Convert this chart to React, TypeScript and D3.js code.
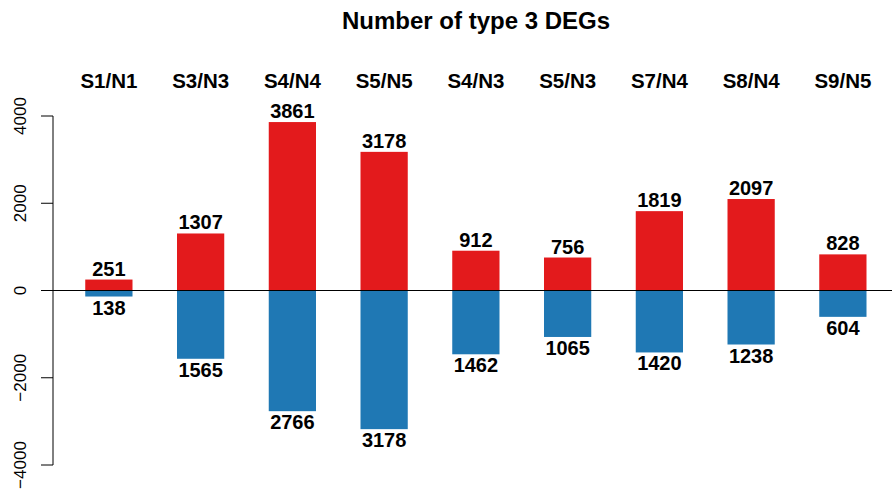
import React from "react";
import * as d3 from "d3";

const categories = ["S1/N1", "S3/N3", "S4/N4", "S5/N5", "S4/N3", "S5/N3", "S7/N4", "S8/N4", "S9/N5"];
const upValues = [251, 1307, 3861, 3178, 912, 756, 1819, 2097, 828];
const downValues = [138, 1565, 2766, 3178, 1462, 1065, 1420, 1238, 604];
const yTicks = [-4000, -2000, 0, 2000, 4000];

const width = 892;
const height = 495;
const font = "'Liberation Sans', Arial, Helvetica, sans-serif";

export default function App() {
  const x = d3
    .scaleBand()
    .domain(categories)
    .range([63, 63 + 91.75 * categories.length])
    .paddingInner(0.485)
    .paddingOuter(0.2425);
  const y = d3.scaleLinear().domain([-4000, 4000]).range([465, 116]);
  const axisX = 53;

  return (
    <svg width={width} height={height} style={{ display: "block", position: "absolute", left: 0, top: 0 }}>
      <rect width={width} height={height} fill="white" />
      <text x={476} y={29} textAnchor="middle" fontFamily={font} fontWeight="bold" fontSize={24}>
        Number of type 3 DEGs
      </text>

      {/* bars */}
      {categories.map((c, i) => (
        <g key={c}>
          <rect x={x(c)} y={y(upValues[i])} width={x.bandwidth()} height={y(0) - y(upValues[i])} fill="#E31A1C" />
          <rect x={x(c)} y={y(0)} width={x.bandwidth()} height={y(-downValues[i]) - y(0)} fill="#1F78B4" />
          <text x={x(c)! + x.bandwidth() / 2} y={88} textAnchor="middle" fontFamily={font} fontWeight="bold" fontSize={20.5}>
            {c}
          </text>
          <text x={x(c)! + x.bandwidth() / 2} y={y(upValues[i]) - 4} textAnchor="middle" fontFamily={font} fontWeight="bold" fontSize={20}>
            {upValues[i]}
          </text>
          <text x={x(c)! + x.bandwidth() / 2} y={y(-downValues[i]) + 18} textAnchor="middle" fontFamily={font} fontWeight="bold" fontSize={20}>
            {downValues[i]}
          </text>
        </g>
      ))}

      {/* zero line */}
      <line x1={axisX} x2={width} y1={y(0)} y2={y(0)} stroke="black" strokeWidth={1} />

      {/* y axis */}
      <line x1={axisX} x2={axisX} y1={y(-4000)} y2={y(4000)} stroke="black" />
      {yTicks.map((t) => (
        <g key={t}>
          <line x1={axisX - 12} x2={axisX} y1={y(t)} y2={y(t)} stroke="black" />
          <text
            transform={`translate(26,${y(t)}) rotate(-90)`}
            textAnchor="middle"
            fontFamily={font}
            fontSize={17}
          >
            {t < 0 ? `\u2212${Math.abs(t)}` : t}
          </text>
        </g>
      ))}
    </svg>
  );
}
